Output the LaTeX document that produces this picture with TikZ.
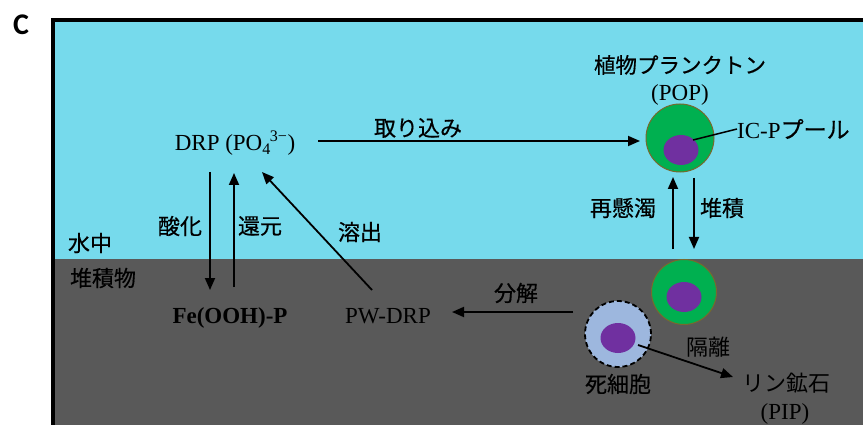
\documentclass[tikz,border=0pt]{standalone}
\usepackage{fontspec}
\setmainfont{Liberation Serif}
\newfontfamily\jp[FakeBold=0.45]{Noto Sans CJK JP}
\newfontfamily\jplight{Noto Sans CJK JP}
\newfontfamily\panelfont{Carlito}
\usetikzlibrary{arrows.meta,shapes.geometric}

\definecolor{water}{RGB}{118,218,236}
\definecolor{sediment}{RGB}{89,89,89}
\definecolor{cellgreen}{RGB}{0,176,80}
\definecolor{nucleus}{RGB}{112,48,160}
\definecolor{deadfill}{RGB}{157,183,222}
\definecolor{rim}{RGB}{120,105,45}

\tikzset{
  jtext/.style={font=\jp\fontsize{22}{26}\selectfont, inner sep=0pt},
  jlight/.style={font=\jplight\fontsize{22}{26}\selectfont, inner sep=0pt, text=black},
  rtext/.style={font=\fontsize{23}{27}\selectfont, inner sep=0pt},
  arr/.style={line width=1.8pt, -{Triangle[length=12pt,width=10pt]}},
  cell/.style={circle, fill=cellgreen, draw=rim, line width=1pt, minimum size=#1, inner sep=0pt},
  deadcell/.style={circle, fill=deadfill, draw=black, dashed, dash pattern=on 5pt off 3pt, line width=1.8pt, minimum size=#1, inner sep=0pt},
  nuc/.style={ellipse, fill=nucleus, minimum width=35pt, minimum height=30pt, inner sep=0pt},
}

\begin{document}
\begin{tikzpicture}[x=1pt,y=-1pt]
\useasboundingbox (0,0) rectangle (863,425);

% water column and sediment layer
\fill[water] (53,20) rectangle (866,259);
\fill[sediment] (53,259) rectangle (866,428);
\draw[line width=4pt] (53,430) -- (53,20) -- (868,20);

% panel letter
\node[font=\panelfont\bfseries\fontsize{30}{32}\selectfont, inner sep=0pt] (panel) at (21,25) {C};

% layer names
\node[jtext] (lwater) at (90,243) {水中};
\node[jtext] (lsed) at (103,278) {堆積物};

% phosphorus pools
\node[rtext] (drp) at (235,143) {DRP (PO\textsubscript{4}\kern-1pt\textsuperscript{3−})};
\node[rtext, font=\bfseries\fontsize{23}{27}\selectfont] (fe) at (230,318) {Fe(OOH)-P};
\node[rtext] (pw) at (388,316) {PW-DRP};

% phytoplankton in the water column
\node[cell=68pt] (pop) at (680,138) {};
\node[nuc] (popnuc) at (681,150) {};
\node[jtext, font=\jp\fontsize{21.5}{26}\selectfont] (poplbl) at (680,65) {植物プランクトン};
\node[rtext] (popabbr) at (680,95) {(POP)};
\node[rtext, anchor=west] (icp) at (737,129) {IC-P\jp プール};
\draw[line width=1.5pt] (693,140) -- (icp.west);

% settled cell in the sediment
\node[cell=65pt] (sett) at (684,292) {};
\node[nuc] (settnuc) at (684,297) {};

% dead cell
\node[deadcell=66pt] (dead) at (618,334) {};
\node[nuc] (deadnuc) at (618,338) {};
\node[jtext] (deadlbl) at (618,384) {死細胞};

% mineral phosphorus
\node[jlight] (pip) at (786,383) {リン鉱石};
\node[rtext] (pipabbr) at (785,414) {(PIP)};

% fluxes
\coordinate (ox1) at (210,172);
\coordinate (ox2) at (210,290);
\coordinate (re1) at (234,287);
\coordinate (re2) at (234,173);
\draw[arr] (ox1) -- (ox2);
\draw[arr] (re1) -- (re2);
\node[jtext] (lox) at (180,226) {酸化};
\node[jtext] (lre) at (260,226) {還元};

\coordinate (upt1) at (318,141);
\coordinate (upt2) at (640,141);
\draw[arr] (upt1) -- (upt2);
\node[jtext] (lupt) at (418,128) {取り込み};

\coordinate (dis1) at (372,290);
\coordinate (dis2) at (262,172);
\draw[arr] (dis1) -- (dis2);
\node[jtext] (ldis) at (360,232) {溶出};

\coordinate (res1) at (673,249);
\coordinate (res2) at (673,177);
\coordinate (dep1) at (694,178);
\coordinate (dep2) at (694,249);
\draw[arr] (res1) -- (res2);
\draw[arr] (dep1) -- (dep2);
\node[jtext] (lres) at (623,208) {再懸濁};
\node[jtext] (ldep) at (722,208) {堆積};

\coordinate (dec1) at (573,312);
\coordinate (dec2) at (452,312);
\draw[arr] (dec1) -- (dec2);
\node[jtext] (ldec) at (516,293) {分解};

\coordinate (iso1) at (638,345);
\coordinate (iso2) at (733,377);
\draw[arr] (iso1) -- (iso2);
\node[jlight] (liso) at (708,347) {隔離};
\end{tikzpicture}
\end{document}
